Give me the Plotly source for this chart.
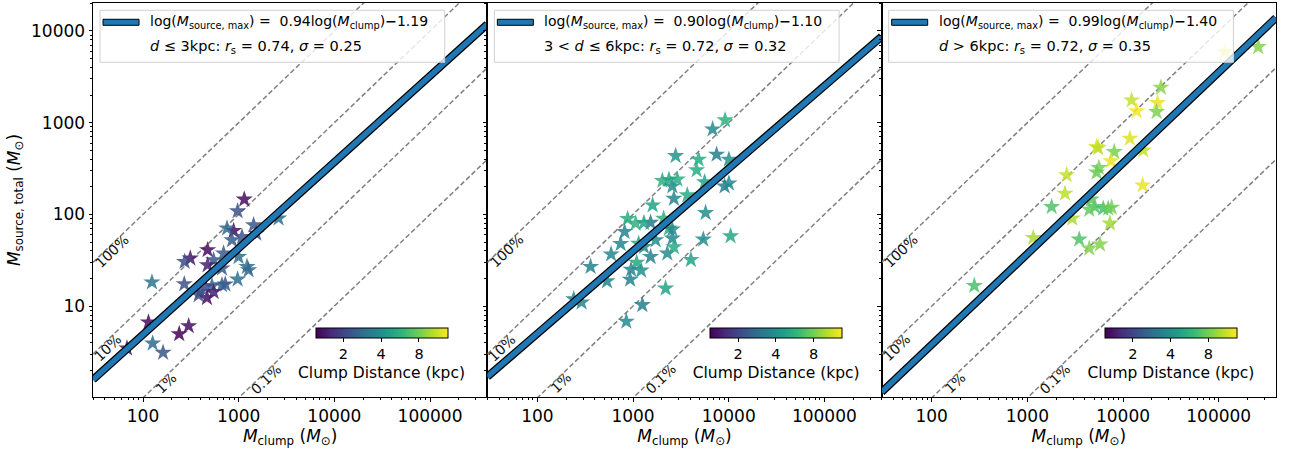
import numpy as np
import plotly.graph_objects as go
from plotly.subplots import make_subplots

# ---------------- data ----------------
# Panel 1: d <= 3 kpc
m_clump_1 = [1144, 974, 1432, 885, 755, 851, 1083, 2612, 1527, 473, 312, 272, 547, 473, 695,
             669, 998, 1221, 1269, 124, 270, 974, 724, 669, 526, 448, 381, 466, 547, 114,
             239, 300, 126, 162, 68, 397]
m_src_1 = [145.6, 108.6, 76.4, 66.3, 70.4, 52.5, 57, 90.5, 62, 40.9, 33.2, 30.5, 31.8, 28, 37.6,
           25.8, 34.5, 26.9, 24.7, 18.2, 17.4, 19.6, 17.3, 17.0, 16.6, 16.3, 13.2, 12.3, 14.3, 6.66,
           4.97, 6.07, 3.93, 3.11, 3.47, 14.3]
dist_1 = [1.3, 2.2, 2.3, 1.3, 2.8, 2.4, 2.2, 2.9, 2.1, 1.3, 1.4, 2.1, 2.3, 1.5, 2.4,
          2.3, 2.8, 2.9, 2.7, 3.0, 2.2, 2.9, 2.3, 2.5, 2.6, 2.0, 2.1, 1.3, 1.5, 1.3,
          1.2, 1.3, 2.8, 2.3, 1.4, 2.2]

# Panel 2: 3 < d <= 6 kpc
m_clump_2 = [9165, 6792, 2787, 7476, 10050, 4849, 4620, 2024, 2903, 2574, 2373, 5600, 9060, 10050,
             2675, 3690, 1603, 5737, 878, 1065, 1527, 1300, 2088, 2373, 2574, 817, 1723, 2574,
             5430, 10470, 742, 1300, 2282, 2675, 590, 1527, 360, 1091, 955, 1216, 4027, 933,
             534, 2191, 240, 290, 1251, 851, 1144]
m_src_2 = [1065, 849, 435, 450, 397, 397, 304, 233, 241, 203, 239, 225, 203, 218,
           149, 162, 126, 104, 89.6, 79.8, 81.4, 81, 90, 70.4, 68.7, 64.6, 52.5, 54.8,
           53.4, 58, 47.8, 44.4, 37.6, 44, 36.8, 34.5, 26.9, 29.9, 25, 24.5, 32, 19.5,
           18.7, 15.6, 11.9, 11.0, 10.3, 6.8, 48]
dist_2 = [5.5, 3.8, 4.2, 3.3, 4.0, 5.2, 5.3, 5.5, 5.3, 3.8, 5.0, 4.8, 3.4, 3.8,
          3.6, 5.2, 4.8, 4.0, 5.3, 5.5, 3.2, 4.8, 5.4, 5.2, 3.8, 3.6, 3.9, 3.7,
          4.0, 5.0, 3.7, 3.5, 3.8, 5.2, 3.7, 3.5, 3.5, 5.0, 3.6, 4.0, 4.8, 3.5,
          3.7, 4.8, 3.6, 3.6, 3.4, 3.8, 5.0]

# Panel 3: d > 6 kpc
m_clump_3 = [258800, 116100, 24900, 12300, 22990, 13870, 22440, 11800, 16260, 5297, 5500, 8090,
             7480, 5600, 5297, 2576, 16030, 2473, 1795, 4626, 5083, 4437, 6209, 6999, 7603,
             7300, 2945, 1153, 3483, 4437, 5742, 279]
m_src_3 = [6700, 5906, 2416, 1758, 1643, 1335, 1312, 673, 501, 545, 530, 481,
           381, 322, 287, 268, 208, 169, 121, 146, 121, 113, 116, 116, 119,
           79.8, 90.4, 55.6, 53.4, 42.6, 47.1, 16.7]
dist_3 = [8.5, 12.5, 8.8, 11, 12.5, 13, 8.3, 12, 11, 12, 10.5, 8.2,
          12.5, 8.0, 7.8, 11, 12.5, 10.5, 6.8, 7.2, 7.0, 7.5, 6.6, 7.5, 8.0,
          9.5, 10, 10, 6.8, 8.5, 8.5, 6.6]

fit_slope = [0.94, 0.90, 0.99]
fit_icpt = [-1.19, -1.10, -1.40]
fit_rs = [0.74, 0.72, 0.72]
fit_sigma = [0.25, 0.32, 0.35]
dist_text = ["<i>d</i> ≤ 3kpc", "3 &lt; <i>d</i> ≤ 6kpc", "<i>d</i> &gt; 6kpc"]

eff_ratios = [1.0, 0.1, 0.01, 0.001]
eff_labels = ["100%", "10%", "1%", "0.1%"]
eff_label_x = [47.8, 42.4, 175, 1941]

x_ticks = [100, 1000, 10000, 100000]
y_ticks = [10, 100, 1000, 10000]
cbar_ticks = [2, 4, 8]
d_min, d_max = 1.2, 13.5

panels = [(m_clump_1, m_src_1, dist_1), (m_clump_2, m_src_2, dist_2), (m_clump_3, m_src_3, dist_3)]

# ---------------- figure ----------------
FONT = "DejaVu Sans"
XR = [np.log10(30), 5.599]
YR = [0.009, 4.305]
BLUE = "#1f77b4"

fig = make_subplots(rows=1, cols=3, shared_yaxes=True, horizontal_spacing=0)

xline = np.array([10 ** XR[0], 10 ** XR[1]])
cb_x = [0.2439, 0.5775, 0.9112]

for i, (mc, ms, dd) in enumerate(panels):
    col = i + 1
    # efficiency lines
    for r in eff_ratios:
        fig.add_trace(go.Scatter(x=xline, y=xline * r, mode="lines",
                                 line=dict(color="#808080", width=1.5, dash="5px,2.6px"),
                                 showlegend=False, hoverinfo="skip"), row=1, col=col)
    # stars
    ca = "coloraxis" if i == 0 else f"coloraxis{i+1}"
    fig.add_trace(go.Scatter(x=mc, y=ms, mode="markers",
                             marker=dict(symbol="star", size=13, color=np.log10(dd),
                                         coloraxis=ca, opacity=0.85, line=dict(width=0)),
                             showlegend=False), row=1, col=col)
    # fit line with black outline
    yfit = 10 ** (fit_slope[i] * np.log10(xline) + fit_icpt[i])
    fig.add_trace(go.Scatter(x=xline, y=yfit, mode="lines", line=dict(color="black", width=8),
                             showlegend=False, hoverinfo="skip"), row=1, col=col)
    fig.add_trace(go.Scatter(x=xline, y=yfit, mode="lines", line=dict(color=BLUE, width=5.5),
                             showlegend=False, hoverinfo="skip"), row=1, col=col)

    xa = "x" if i == 0 else f"x{i+1}"
    ya = "y" if i == 0 else f"y{i+1}"
    # efficiency labels
    for r, lab, lx in zip(eff_ratios, eff_labels, eff_label_x):
        fig.add_annotation(x=np.log10(lx), y=np.log10(lx * r * 0.83), xref=xa, yref=ya,
                           text=lab, showarrow=False, textangle=-43.8,
                           font=dict(family=FONT, size=14, color="#111111"))
    # legend box
    fig.add_shape(type="rect", xref=f"{xa} domain", yref=f"{ya} domain",
                  x0=0.0178, x1=0.892, y0=0.8496, y1=0.9815,
                  fillcolor="rgba(255,255,255,0.8)", line=dict(color="#d0d0d0", width=1),
                  layer="above")
    fig.add_shape(type="rect", xref=f"{xa} domain", yref=f"{ya} domain",
                  x0=0.0254, x1=0.1167, y0=0.9434, y1=0.9587,
                  fillcolor=BLUE, line=dict(color="black", width=1), layer="above")
    sign = "−" if fit_icpt[i] < 0 else "+"
    line1 = (f"log(<i>M</i><sub>source, max</sub>) =  {fit_slope[i]:.2f}log(<i>M</i><sub>clump</sub>)"
             f"<b>{sign}</b>{abs(fit_icpt[i]):.2f}")
    line2 = f"{dist_text[i]}: <i>r</i><sub>s</sub> = {fit_rs[i]:.2f}, <i>σ</i> = {fit_sigma[i]:.2f}"
    fig.add_annotation(x=0.1395, y=0.951, xref=f"{xa} domain", yref=f"{ya} domain",
                       text=line1, showarrow=False, xanchor="left", yanchor="middle",
                       font=dict(family=FONT, size=14, color="black"))
    fig.add_annotation(x=0.1395, y=0.8876, xref=f"{xa} domain", yref=f"{ya} domain",
                       text=line2, showarrow=False, xanchor="left", yanchor="middle",
                       font=dict(family=FONT, size=14.5, color="black"))

    # coloraxis with horizontal colorbar
    fig.layout[ca] = dict(
        colorscale="Viridis", cmin=np.log10(d_min), cmax=np.log10(d_max),
        colorbar=dict(orientation="h", x=cb_x[i], xanchor="center", y=0.1742, yanchor="top",
                      len=0.1112, lenmode="fraction", thickness=10, thicknessmode="pixels",
                      outlinewidth=1, outlinecolor="black", xpad=0, ypad=0,
                      tickmode="array", tickvals=list(np.log10(cbar_ticks)),
                      ticktext=[str(t) for t in cbar_ticks], ticks="outside", ticklen=3.5,
                      tickcolor="black", tickfont=dict(family=FONT, size=14.5, color="black"),
                      title=dict(text="Clump Distance (kpc)", side="bottom",
                                 font=dict(family=FONT, size=15.5, color="black"))))

minor_vals = [k * 10 ** n for n in range(0, 7) for k in range(2, 10)]
axis_common = dict(type="log", showgrid=False, zeroline=False, showline=True, mirror=True,
                   linecolor="black", linewidth=1, ticks="outside", ticklen=3.5, tickwidth=1,
                   tickcolor="black", tickfont=dict(family=FONT, size=17, color="black"),
                   minor=dict(tickmode="array", tickvals=minor_vals, ticks="outside",
                              ticklen=2, tickcolor="black", showgrid=False))

for i in range(3):
    fig.update_xaxes(range=XR, tickmode="array", tickvals=x_ticks,
                     ticktext=[str(t) for t in x_ticks],
                     title=dict(text="<i>M</i><sub>clump</sub> (<i>M</i><sub>⊙</sub>)",
                                font=dict(family=FONT, size=17, color="black"), standoff=4),
                     row=1, col=i + 1, **axis_common)
    fig.update_yaxes(range=YR, tickmode="array", tickvals=y_ticks,
                     ticktext=[str(t) for t in y_ticks], row=1, col=i + 1, **axis_common)
fig.update_yaxes(title=dict(text="<i>M</i><sub>source, total</sub> (<i>M</i><sub>⊙</sub>)",
                            font=dict(family=FONT, size=17, color="black"), standoff=6),
                 row=1, col=1)
fig.update_yaxes(showticklabels=False, row=1, col=2)
fig.update_yaxes(showticklabels=False, row=1, col=3)

fig.update_layout(width=1291, height=450, margin=dict(l=93, r=15, t=3, b=53),
                  plot_bgcolor="white", paper_bgcolor="white", showlegend=False,
                  font=dict(family=FONT, color="black"))

fig.write_html("out.html", config={"displayModeBar": False},
               post_script="document.body.style.margin='0';")
